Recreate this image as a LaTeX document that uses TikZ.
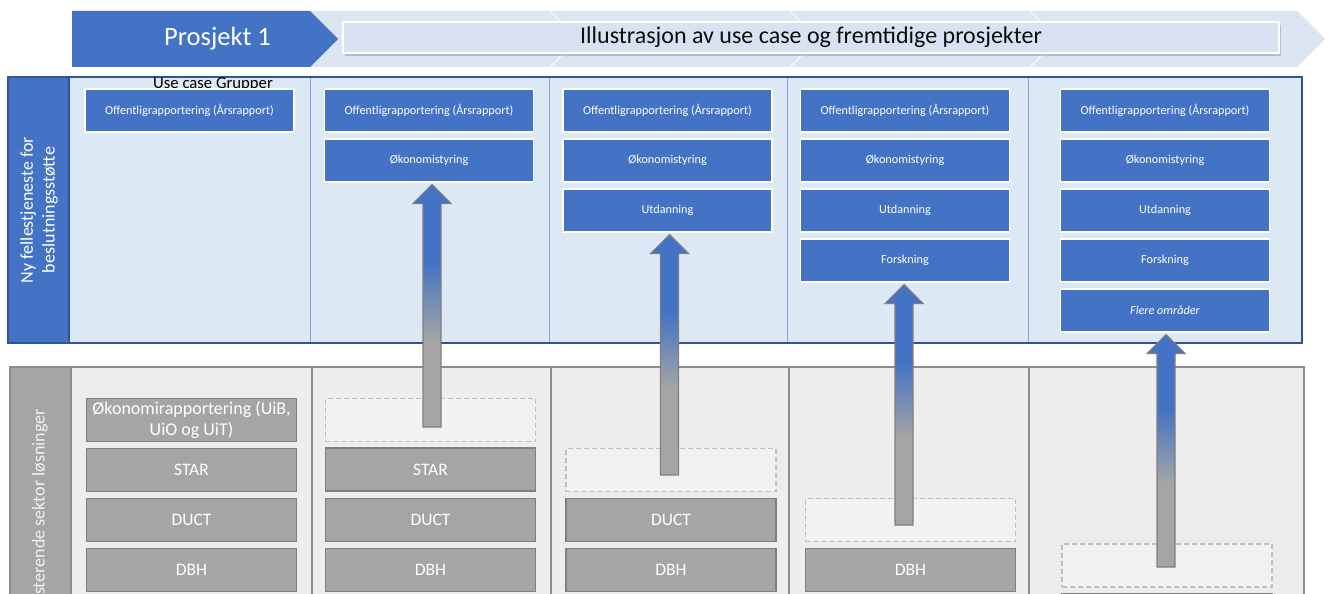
\documentclass[tikz,border=0pt]{standalone}
\usepackage{fontspec}
\setmainfont{Carlito}
\usetikzlibrary{calc,shadows}

\definecolor{uiblue}{HTML}{4472C4}
\definecolor{uidark}{HTML}{2F5597}
\definecolor{uipale}{HTML}{DDE8F5}
\definecolor{uiband}{HTML}{DCE6F2}
\definecolor{uititle}{HTML}{D9E2F3}
\definecolor{uisep}{HTML}{7FA3DC}
\definecolor{grfill}{HTML}{A5A5A5}
\definecolor{gredge}{HTML}{7F7F7F}
\definecolor{grback}{HTML}{EDEDED}
\definecolor{grline}{HTML}{8C8C8C}
\definecolor{grghost}{HTML}{F2F2F2}
\definecolor{grdash}{HTML}{BFBFBF}

% blue at the head, grey at the foot of each lift arrow
\pgfdeclareverticalshading{liftgrad}{100bp}{%
  color(0bp)=(grfill); color(43bp)=(grfill); color(59bp)=(uiblue); color(100bp)=(uiblue)}

\newcommand\fsz[1]{\fontsize{#1}{1.2\dimexpr#1pt\relax}\selectfont}

% block arrow from a foot coordinate up to just below a target node
\newcommand\liftarrow[2]{%
  \path[liftstyle]
    ($(#1)+(-9,0)$) --
    ($(#1 |- #2.south)+(-9,21)$) --
    ($(#1 |- #2.south)+(-19,21)$) --
    ($(#1 |- #2.south)+(0,2)$) --
    ($(#1 |- #2.south)+(19,21)$) --
    ($(#1 |- #2.south)+(9,21)$) --
    ($(#1)+(9,0)$) -- cycle;}

\begin{document}
\begin{tikzpicture}[x=1pt,y=-1pt,
  usecase/.style={fill=uiblue,draw=white,line width=1.2pt,text=white,
    minimum width=209pt,minimum height=43pt,inner sep=0pt,font=\fsz{12.2}},
  legacy/.style={fill=grfill,draw=gredge,line width=1.6pt,text=white,
    minimum width=210pt,minimum height=43pt,inner sep=0pt,align=center,font=\fsz{17.5}},
  ghost/.style={fill=grghost,draw=grdash,line width=1.2pt,dash pattern=on 5pt off 3pt,
    minimum width=210pt,minimum height=43pt,inner sep=0pt},
  sidelabel/.style={rotate=90,text=white,align=center,font=\fsz{18},inner sep=0pt},
  liftstyle/.style={shade,shading=liftgrad,draw=gredge,line width=1.2pt,line join=miter},
  colsep/.style={draw=uisep,line width=0.8pt},
  graysep/.style={draw=grline,line width=1.3pt}]

\useasboundingbox (0,0) rectangle (1328,594);
\fill[white] (0,0) rectangle (1328,594);
\clip (0,0) rectangle (1328,594);

% ---------- banner ----------
\fill[uiband] (72,11) -- (1297,11) -- (1325,39) -- (1297,67) -- (72,67) -- cycle;
\foreach \cx in {550,790,1030}
  \draw[white,line width=1pt] (\cx,11) -- (\cx+28,39) -- (\cx,67);
\fill[uiblue] (72,11) -- (310,11) -- (338,39) -- (310,67) -- (72,67) -- cycle;
\node[text=white,font=\fsz{26.5}] (proj) at (217.5,39) {Prosjekt 1};
\node[fill=uititle,draw=white,line width=1.2pt,minimum width=936pt,minimum height=31pt,
  inner sep=0pt,font=\fsz{24},text=black!95,
  drop shadow={opacity=0.4,shadow xshift=2pt,shadow yshift=-3pt}]
  (title) at (811,37.5) {Illustrasjon av use case og fremtidige prosjekter};

% ---------- new shared service ----------
\fill[uipale] (8,77) rectangle (1302,343);
\fill[uiblue] (8,77) rectangle (69,343);
\foreach \sx in {310,549,787,1028}
  \draw[colsep] (\sx,77) -- (\sx,343);
\draw[uidark,line width=1.2pt] (69,77) -- (69,343);
\draw[uidark,line width=1.2pt] (8,77) rectangle (1302,343);
\node[sidelabel] (newlbl) at (39,210) {Ny fellestjeneste for\\beslutningsstøtte};
\node[font=\fsz{16.7},text=black,inner sep=0pt] (ucg) at (213,84) {Use case Grupper};

\node[usecase] (a1) at (189.5,110.5) {Offentligrapportering (Årsrapport)};

\node[usecase] (b1) at (429,110.5) {Offentligrapportering (Årsrapport)};
\node[usecase] (b2) at (429,160.5) {Økonomistyring};

\node[usecase] (c1) at (667.5,110.5) {Offentligrapportering (Årsrapport)};
\node[usecase] (c2) at (667.5,160.5) {Økonomistyring};
\node[usecase] (c3) at (667.5,210.5) {Utdanning};

\node[usecase] (d1) at (905,110.5) {Offentligrapportering (Årsrapport)};
\node[usecase] (d2) at (905,160.5) {Økonomistyring};
\node[usecase] (d3) at (905,210.5) {Utdanning};
\node[usecase] (d4) at (905,260.5) {Forskning};

\node[usecase] (e1) at (1165,110.5) {Offentligrapportering (Årsrapport)};
\node[usecase] (e2) at (1165,160.5) {Økonomistyring};
\node[usecase] (e3) at (1165,210.5) {Utdanning};
\node[usecase] (e4) at (1165,260.5) {Forskning};
\node[usecase] (e5) at (1165,310.5) {\itshape Flere områder};

% ---------- existing sector solutions ----------
\fill[grback] (10,367) rectangle (1304,640);
\fill[grfill] (10,367) rectangle (71,640);
\foreach \sx in {71,312,551,789,1029}
  \draw[graysep] (\sx,367) -- (\sx,640);
\draw[graysep] (10,367) rectangle (1304,640);
\node[sidelabel,text=grghost,anchor=east] (oldlbl) at (40,409) {Eksisterende sektor løsninger};

\node[legacy,font=\fsz{18}] (p1) at (191.5,420) {Økonomirapportering (UiB,\\UiO og UiT)};
\node[legacy] (p2) at (191.5,470) {STAR};
\node[legacy] (p3) at (191.5,520) {DUCT};
\node[legacy] (p4) at (191.5,570) {DBH};

\node[ghost]  (q1) at (430.5,420) {};
\node[legacy] (q2) at (430.5,469.5) {STAR};
\node[legacy] (q3) at (430.5,520) {DUCT};
\node[legacy] (q4) at (430.5,570) {DBH};

\node[ghost]  (r2) at (671,470) {};
\node[legacy] (r3) at (671,520) {DUCT};
\node[legacy] (r4) at (671,570) {DBH};

\node[ghost]  (s3) at (910.5,520) {};
\node[legacy] (s4) at (910.5,570) {DBH};

\node[ghost]  (t4) at (1167,565.5) {};
\node[legacy] (t5) at (1167,615) {};

% ---------- lift arrows ----------
\coordinate (f1) at (432,427);
\coordinate (f2) at (669.5,475);
\coordinate (f3) at (904,525);
\coordinate (f4) at (1166,567);
\liftarrow{f1}{b2}
\liftarrow{f2}{c3}
\liftarrow{f3}{d4}
\liftarrow{f4}{e5}

\end{tikzpicture}
\end{document}
